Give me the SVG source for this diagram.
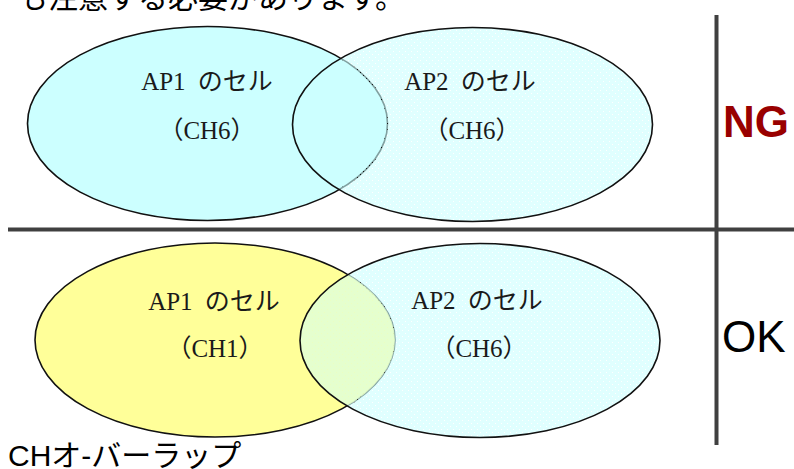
<svg xmlns="http://www.w3.org/2000/svg" width="794" height="469" viewBox="0 0 794 469">
<style>
.cap{font-family:"Liberation Sans","Noto Sans CJK JP",sans-serif;font-size:30px;fill:#000}
.lbl{font-family:"Liberation Serif","Noto Sans CJK JP",serif;font-size:25px;fill:#1a1a1a;text-anchor:middle}
.ell{stroke:#111;stroke-width:1.6}
.rule{stroke:#404040;stroke-width:4}
</style>
<defs>
<pattern id="dots" width="6" height="6" patternUnits="userSpaceOnUse">
<path d="M0 0h6v6h-6z M0 0v1h1v-1z M3 3v1h1v-1z" fill="#ccffff" fill-opacity="0.6" fill-rule="evenodd"/>
</pattern>
<clipPath id="ap1b-clip">
<ellipse cx="215" cy="340" rx="180" ry="97"/>
</clipPath>
</defs>
<rect width="794" height="469" fill="#fff"/>
<text class="cap" x="18" y="8">も注意する必要があります。</text>
<g id="connectors">
<line class="rule" x1="8" y1="229.5" x2="794" y2="229.5"/>
<line class="rule" x1="716.5" y1="15" x2="716.5" y2="445"/>
</g>
<g id="ap1-top">
<ellipse class="ell" cx="207.5" cy="123.5" rx="180" ry="97" fill="#ccffff"/>
<text class="lbl" x="207" y="90">AP1 <tspan dx="6">のセル</tspan></text>
<text class="lbl" x="207" y="139">（CH6）</text>
</g>
<g id="ap2-top">
<ellipse class="ell" cx="472.5" cy="124.5" rx="180" ry="97" fill="url(#dots)"/>
<text class="lbl" x="470" y="90">AP2 <tspan dx="6">のセル</tspan></text>
<text class="lbl" x="472" y="139">（CH6）</text>
</g>
<g id="ng">
<text x="723" y="137" style="font-family:'Liberation Sans',sans-serif;font-size:44px;font-weight:bold;fill:#990000">NG</text>
</g>
<g id="ap1-bottom">
<ellipse class="ell" cx="215" cy="340" rx="180" ry="97" fill="#ffff99"/>
<text class="lbl" x="214" y="310">AP1 <tspan dx="6">のセル</tspan></text>
<text class="lbl" x="215" y="357">（CH1）</text>
</g>
<g id="ap2-bottom">
<ellipse cx="480" cy="340.5" rx="180" ry="97" fill="url(#dots)"/>
<ellipse cx="480" cy="340.5" rx="180" ry="97" fill="#e6ffcc" fill-opacity="0.8" clip-path="url(#ap1b-clip)"/>
<ellipse class="ell" cx="480" cy="340.5" rx="180" ry="97" fill="none"/>
<text class="lbl" x="477" y="309">AP2 <tspan dx="6">のセル</tspan></text>
<text class="lbl" x="479" y="357">（CH6）</text>
</g>
<g id="ok">
<text x="722" y="352" style="font-family:'Liberation Sans',sans-serif;font-size:44px;fill:#000">OK</text>
</g>
<text class="cap" x="8" y="466">CHオ-バーラップ</text>
</svg>
